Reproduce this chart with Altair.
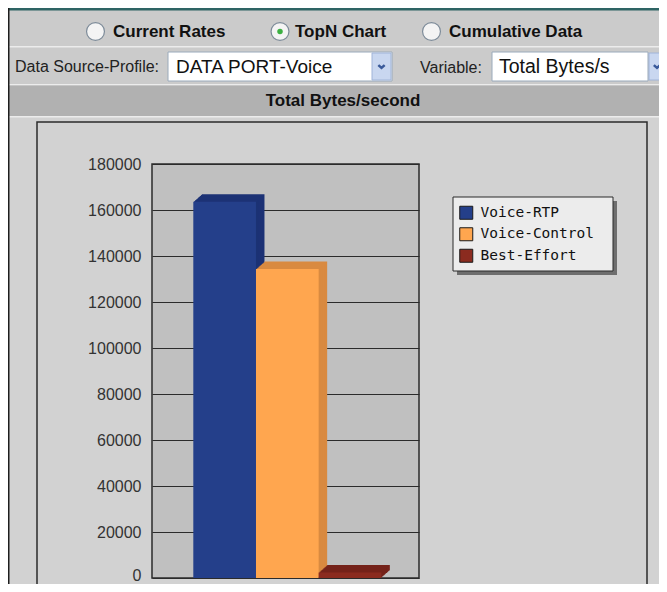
import altair as alt
import pandas as pd

# ---- chart values ----
categories = ["Voice-RTP", "Voice-Control", "Best-Effort"]
values = [163600, 134300, 2400]
front_colors = ["#243f8a", "#ffa64f", "#8b2b1f"]
side_colors = ["#1c3275", "#d98a40", "#74231a"]
y_ticks = [0, 20000, 40000, 60000, 80000, 100000, 120000, 140000, 160000, 180000]

df = pd.DataFrame({"category": categories, "value": values, "side": side_colors})
one = pd.DataFrame({"k": [0]})

x_enc = alt.X("category:N", sort=categories, axis=None,
              scale=alt.Scale(domain=categories, paddingInner=0, paddingOuter=0.63, align=0.523))
y_axis = alt.Axis(values=y_ticks, title=None, ticks=False, domain=False, format="d",
                  labelFont="Liberation Sans", labelFontSize=16, labelColor="#333333",
                  labelPadding=11, grid=True, gridColor="#2b2b2b", gridWidth=1, gridOpacity=1,
                  labelOffset={"condition": {"test": "datum.value === 0", "value": -2.5},
                               "value": 0})
y_enc = alt.Y("value:Q", scale=alt.Scale(domain=[0, 180000], nice=False, zero=True), axis=y_axis)

# extruded depth (3D look): stacked copies shifted up/right
DEPTH_STEPS = 9
depth_layers = [
    alt.Chart(df).mark_bar(xOffset=8.5 * k / DEPTH_STEPS, yOffset=-7.5 * k / DEPTH_STEPS).encode(
        x=x_enc, y=y_enc, color=alt.Color("side:N", scale=None))
    for k in range(DEPTH_STEPS, 0, -1)
]

front = alt.Chart(df).mark_bar().encode(
    x=x_enc, y=y_enc,
    color=alt.Color("category:N", sort=categories,
                    scale=alt.Scale(domain=categories, range=front_colors),
                    legend=alt.Legend(orient="none", legendX=307, legendY=41.5, title=None,
                                      symbolType="square", symbolSize=169,
                                      symbolStrokeColor="#1a1a1a", symbolStrokeWidth=1,
                                      symbolOpacity=1, labelFont="DejaVu Sans Mono",
                                      labelFontSize=14.5, labelColor="#111111",
                                      labelOffset=7, rowPadding=3.5, padding=0)))


def rect(x1, x2, y1, y2, **kw):
    return alt.Chart(one).mark_rect(**kw).encode(
        x=alt.value(x1), x2=alt.value(x2), y=alt.value(y1), y2=alt.value(y2))


def label(s, x, y, **kw):
    return alt.Chart(one).mark_text(**kw).encode(
        x=alt.value(x), y=alt.value(y), text=alt.value(s))


def dot(x, y, **kw):
    return alt.Chart(one).mark_point(**kw).encode(x=alt.value(x), y=alt.value(y))


chev = "M-1,-0.45L0,0.45L1,-0.45"

decor = [
    rect(-144, 507, -156, -48, fill="#cbcbcb"),
    rect(-144, 507, -156, -153.5, fill="#2e6464"),
    rect(-144, 507, -118, -116.5, fill="#ececec"),
    rect(-144, 507, -80, -78.5, fill="#ececec"),
    rect(-144, 507, -78.5, -48, fill="#b1b1b1"),
    rect(-144, 507, -48, -46.5, fill="#ececec"),
    rect(-144, -142.5, -156, 430, fill="#1e1e1e"),
    rect(-115, 495, -42, 436, fill="#d2d2d2", fillOpacity=0, stroke="#2b2b2b", strokeWidth=1.5),
    # dropdowns
    rect(16, 240, -112, -83, fill="#ffffff", stroke="#9aaabb", strokeWidth=1),
    rect(220, 239, -111, -84, fill="#c9d7f0", stroke="#a0b4d8", strokeWidth=1),
    dot(229.5, -97.5, shape=chev, filled=False, size=40, stroke="#3a5a9a", strokeWidth=2.5, opacity=1),
    rect(340, 496, -112, -83, fill="#ffffff", stroke="#9aaabb", strokeWidth=1),
    rect(497, 515, -111, -84, fill="#c9d7f0", stroke="#a0b4d8", strokeWidth=1),
    dot(505, -97.5, shape=chev, filled=False, size=40, stroke="#3a5a9a", strokeWidth=2.5, opacity=1),
    # radio buttons
    dot(-56.5, -132.5, shape="circle", filled=True, size=320, fill="#f4f4f4",
        stroke="#7d8b99", strokeWidth=1.2, opacity=1),
    dot(128, -132.5, shape="circle", filled=True, size=320, fill="#f4f4f4",
        stroke="#7d8b99", strokeWidth=1.2, opacity=1),
    dot(279.5, -132.5, shape="circle", filled=True, size=320, fill="#f4f4f4",
        stroke="#7d8b99", strokeWidth=1.2, opacity=1),
    dot(128, -132.5, shape="circle", filled=True, size=30, fill="#3cb043", opacity=1),
    # texts
    label("Current Rates", -39, -132, align="left", baseline="middle", font="Liberation Sans",
          fontSize=17, fontWeight="bold", color="#111111"),
    label("TopN Chart", 143, -132, align="left", baseline="middle", font="Liberation Sans",
          fontSize=17, fontWeight="bold", color="#111111"),
    label("Cumulative Data", 297, -132, align="left", baseline="middle", font="Liberation Sans",
          fontSize=17, fontWeight="bold", color="#111111"),
    label("Data Source-Profile:", -137, -97, align="left", baseline="middle",
          font="Liberation Sans", fontSize=16, color="#222222"),
    label("DATA PORT-Voice", 24, -97.5, align="left", baseline="middle",
          font="Liberation Sans", fontSize=19, color="#111111"),
    label("Variable:", 268, -96.5, align="left", baseline="middle",
          font="Liberation Sans", fontSize=16, color="#222222"),
    label("Total Bytes/s", 347, -97.5, align="left", baseline="middle",
          font="Liberation Sans", fontSize=19.5, color="#111111"),
    label("Total Bytes/second", 191, -63, align="center", baseline="middle",
          font="Liberation Sans", fontSize=17, fontWeight="bold", color="#111111"),
    # legend box with shadow
    rect(305, 465, 37, 111, fill="#6e6e6e"),
    rect(301, 461, 33, 107, fill="#ececec", stroke="#2b2b2b", strokeWidth=1),
]

chart = alt.layer(*decor, *depth_layers, front).properties(
    width=267, height=414,
    padding={"left": 144, "top": 156, "right": 240, "bottom": 6},
    autosize=alt.AutoSizeParams(type="none"),
    background="#d2d2d2",
).configure_view(fill="#c0c0c0", stroke="#2b2b2b", strokeWidth=1.5)

chart.save("out.html", embed_options={"renderer": "svg", "actions": False})
